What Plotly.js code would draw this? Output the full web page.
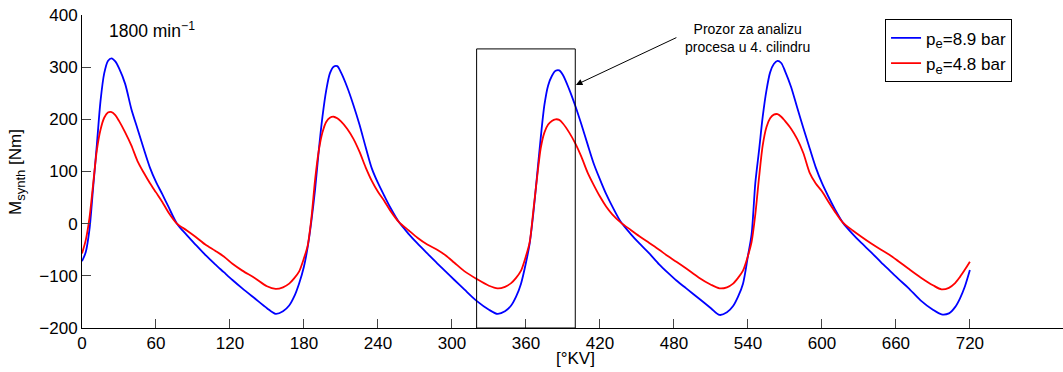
<!DOCTYPE html>
<html>
<head>
<meta charset="utf-8">
<script src="https://cdn.plot.ly/plotly-3.0.1.min.js"></script>
<style>html,body{margin:0;padding:0;background:#fff;overflow:hidden}</style>
</head>
<body>
<div id="chart" style="width:1063px;height:372px"></div>
<script>
// crank angle [°KV]
const angle = [
  0,3,6,9,12,15,18,21,24,27,30,35,40,45,50,55,60,65,70,77,85,92,100,108,115,122,130,140,150,157,163,168,172,176,
  180,183,186,189,192,195,198,201,204,207,210,215,220,225,230,235,240,245,250,257,265,272,280,288,295,302,310,320,330,337,343,348,352,356,
  360,363,366,369,372,375,378,381,384,387,390,395,400,405,410,415,420,425,430,437,445,452,460,468,475,482,490,500,510,517,523,528,532,536,
  540,543,546,549,552,555,558,561,564,567,570,575,580,585,590,595,600,605,610,617,625,632,640,648,655,662,670,680,690,697,703,708,712,716,
  720
];
// p_e = 8.9 bar  [Nm]
const m89 = [
  -72,-55,-12,68,150,235,288,312,317,311,298,268,220,182,144,108,80,57,33,0,-22,-40,-60,-78,-93,-108,-124,-143,-162,-173,-168,-157,-140,-115,
  -82,-45,5,65,140,205,255,288,301,302,290,262,228,190,147,106,78,54,31,3,-20,-38,-57,-76,-92,-108,-126,-148,-165,-173,-168,-157,-140,-115,
  -75,-38,20,92,165,228,265,283,293,294,285,258,226,190,152,115,85,57,33,3,-20,-38,-57,-78,-94,-109,-124,-143,-162,-175,-170,-158,-140,-115,
  -62,-20,78,140,205,255,290,306,312,308,293,262,222,183,145,108,78,53,30,2,-20,-37,-55,-74,-90,-106,-123,-147,-165,-174,-172,-160,-143,-120,
  -89
];
// p_e = 4.8 bar  [Nm]
const m48 = [
  -57,-32,10,75,140,180,203,213,214,208,197,175,150,120,98,78,60,42,22,0,-13,-25,-40,-52,-63,-77,-90,-104,-120,-125,-122,-115,-105,-92,
  -66,-42,10,84,140,175,195,203,205,202,196,182,163,138,108,82,61,44,25,3,-13,-27,-40,-50,-61,-75,-91,-106,-119,-124,-121,-114,-104,-90,
  -62,-36,25,88,145,175,190,197,200,199,192,175,154,128,98,74,52,33,18,2,-12,-24,-37,-50,-62,-73,-86,-103,-117,-124,-122,-115,-104,-90,
  -62,-35,18,88,150,185,202,209,210,205,197,182,162,135,98,77,62,43,25,2,-13,-25,-38,-50,-60,-72,-86,-103,-118,-126,-123,-114,-102,-88,
  -73
];
const xTicks = [0,60,120,180,240,300,360,420,480,540,600,660,720];
const yTicks = [-200,-100,0,100,200,300,400];
const SUB = t => '<span style="font-size:18.6px"><sub>' + t + '</sub></span>';
const seriesNames = ['p' + SUB('e') + '=8.9 bar', 'p' + SUB('e') + '=4.8 bar'];
const windowRect = {x0:320, x1:400, y0:-200, y1:335};

const FONT = 'Liberation Sans, Arial, Helvetica, sans-serif';

const traces = [
  {x: angle, y: m89, name: seriesNames[0], type:'scatter', mode:'lines',
   line:{color:'#0000ff', width:1.8, shape:'spline', smoothing:0.8}},
  {x: angle, y: m48, name: seriesNames[1], type:'scatter', mode:'lines',
   line:{color:'#ff0000', width:1.8, shape:'spline', smoothing:0.8}}
];

const layout = {
  width:1063, height:372,
  margin:{l:82, r:0, t:15, b:44, pad:0},
  paper_bgcolor:'#fff', plot_bgcolor:'#fff',
  font:{family:FONT, size:17, color:'#000'},
  showlegend:true,
  legend:{x:0.8186, y:0.986, xanchor:'left', yanchor:'top',
          bordercolor:'#000', borderwidth:1, bgcolor:'#fff',
          font:{family:FONT, size:17, color:'#000'}, tracegroupgap:0, itemwidth:30},
  xaxis:{range:[0,795.5], tickvals:xTicks, ticktext:xTicks.map(String),
         ticks:'inside', ticklen:9, tickcolor:'#444', tickwidth:1,
         showline:true, linecolor:'#000', linewidth:1, mirror:false,
         showgrid:false, zeroline:false, tickfont:{family:FONT, size:17, color:'#000'}},
  yaxis:{range:[-200,400], tickvals:yTicks, ticktext:yTicks.map(v=> v<0 ? '\u2212'+Math.abs(v) : String(v)),
         ticks:'inside', ticklen:9, tickcolor:'#444', tickwidth:1,
         showline:true, linecolor:'#000', linewidth:1, mirror:false,
         showgrid:false, zeroline:false, tickfont:{family:FONT, size:17, color:'#000'}},
  shapes:[{type:'rect', xref:'x', yref:'y', x0:windowRect.x0, x1:windowRect.x1, y0:windowRect.y0, y1:windowRect.y1,
           line:{color:'#000', width:1}, fillcolor:'rgba(0,0,0,0)'}],
  annotations:[
    {xref:'paper', yref:'paper', x:(575-82)/981, y:(328-358)/313, text:'[°KV]', showarrow:false,
     xanchor:'center', yanchor:'middle', font:{family:FONT, size:17, color:'#000'}},
    {xref:'paper', yref:'paper', x:(17-82)/981, y:(328-172)/313, text:'M' + SUB('synth') + ' [Nm]', showarrow:false,
     textangle:-90, xanchor:'center', yanchor:'middle', font:{family:FONT, size:17, color:'#000'}},
    {xref:'x', yref:'y', x:20, y:371, text:'1800 min<sup>\u22121</sup>', showarrow:false,
     xanchor:'left', yanchor:'middle', font:{family:FONT, size:17.5, color:'#000'}},
    {xref:'x', yref:'y', x:540, y:356, text:'Prozor za analizu<br>procesa u 4. cilindru', showarrow:false,
     xanchor:'center', yanchor:'middle', align:'center', font:{family:FONT, size:14, color:'#000'}},
    {xref:'x', yref:'y', x:400.5, y:266, ax:102, ay:-48, text:'', showarrow:true,
     arrowhead:2, arrowsize:1.3, arrowwidth:1, arrowcolor:'#000'}
  ]
};

Plotly.newPlot('chart', traces, layout, {displayModeBar:false, staticPlot:true});
</script>
</body>
</html>
